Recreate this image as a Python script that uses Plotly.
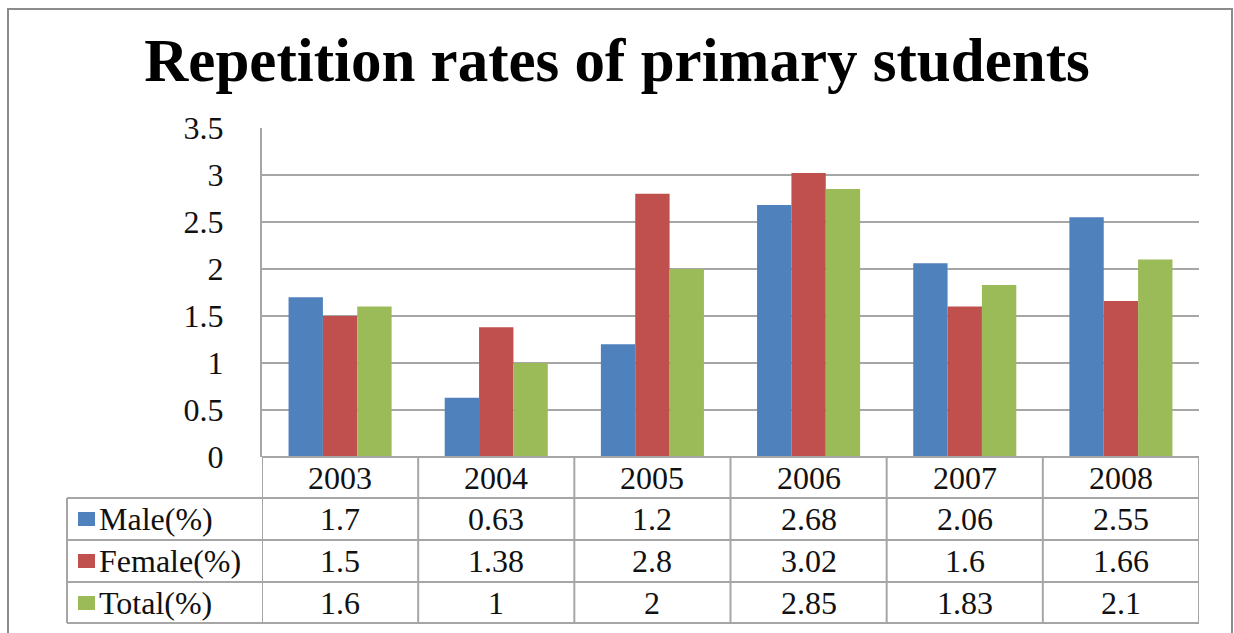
import plotly.graph_objects as go

years = ["2003", "2004", "2005", "2006", "2007", "2008"]
male = [1.7, 0.63, 1.2, 2.68, 2.06, 2.55]
female = [1.5, 1.38, 2.8, 3.02, 1.6, 1.66]
total = [1.6, 1, 2, 2.85, 1.83, 2.1]
series_names = ["Male(%)", "Female(%)", "Total(%)"]
series_values = [male, female, total]
colors = ["#4F81BD", "#C0504D", "#9BBB59"]

W, H = 1234, 633
font = "Liberation Serif, Times New Roman, serif"
grid = "#a6a6a6"

def px(x):
    return x / W

def py(y):
    return 1 - y / H

fig = go.Figure()
for name, vals, col in zip(series_names, series_values, colors):
    fig.add_trace(go.Bar(x=years, y=vals, name=name, marker=dict(color=col, line=dict(width=0))))

shapes = []
ann = []

# outer frame
shapes.append(dict(type="rect", xref="paper", yref="paper", x0=px(8), x1=px(1232), y0=py(700), y1=py(9),
                   line=dict(color="#8c8c8c", width=2)))

# table grid (below the axis)
row_lines = [457, 498, 540, 582, 623]
for i, yy in enumerate(row_lines):
    shapes.append(dict(type="line", xref="paper", yref="paper",
                       x0=px(262 if i == 0 else 67), x1=px(1199), y0=py(yy), y1=py(yy),
                       line=dict(color=grid, width=2)))
for i in range(len(years) + 1):
    shapes.append(dict(type="line", xref="x", yref="paper", x0=i - 0.5, x1=i - 0.5,
                       y0=py(457), y1=py(623), line=dict(color=grid, width=2)))
shapes.append(dict(type="line", xref="paper", yref="paper", x0=px(67), x1=px(67),
                   y0=py(498), y1=py(623), line=dict(color=grid, width=2)))

cell_font = dict(family=font, size=32, color="#111")

# header row
for i, yr in enumerate(years):
    ann.append(dict(x=i, xref="x", y=py(478), yref="paper", text=yr, showarrow=False,
                    xanchor="center", yanchor="middle", font=cell_font))

# data rows
row_centers = [519, 561, 603]
for name, vals, col, yc in zip(series_names, series_values, colors, row_centers):
    shapes.append(dict(type="rect", xref="paper", yref="paper", x0=px(78), x1=px(95),
                       y0=py(yc + 7), y1=py(yc - 7), fillcolor=col, line=dict(width=0)))
    ann.append(dict(x=px(97), xref="paper", y=py(yc), yref="paper", text=name, showarrow=False,
                    xanchor="left", yanchor="middle", font=cell_font))
    for i, v in enumerate(vals):
        ann.append(dict(x=i, xref="x", y=py(yc), yref="paper", text=str(v), showarrow=False,
                        xanchor="center", yanchor="middle", font=cell_font))

fig.update_layout(
    width=W, height=H,
    margin=dict(l=0, r=0, t=0, b=0, pad=0, autoexpand=False),
    paper_bgcolor="white", plot_bgcolor="white",
    barmode="group", bargap=0.34, bargroupgap=0,
    showlegend=False,
    title=dict(text="<b>Repetition rates of primary students</b>", x=0.5, xanchor="center",
               y=py(60), yanchor="middle", font=dict(family=font, size=61, color="black")),
    xaxis=dict(type="category", range=[-0.5, len(years) - 0.5], domain=[px(262), px(1199)],
               showticklabels=False, showgrid=False, showline=False, zeroline=False,
               fixedrange=True, automargin=False),
    yaxis=dict(domain=[py(457), py(128)], range=[0, 3.5], dtick=0.5, showgrid=True,
               gridcolor=grid, gridwidth=2, zeroline=False, showline=True, linecolor=grid,
               linewidth=2, ticks="", ticklabelstandoff=30, automargin=False, fixedrange=True,
               tickfont=dict(family=font, size=32, color="#111")),
    shapes=shapes, annotations=ann,
)

fig.write_html("out.html", config={"displayModeBar": False},
               post_script="document.body.style.margin='0px';")
